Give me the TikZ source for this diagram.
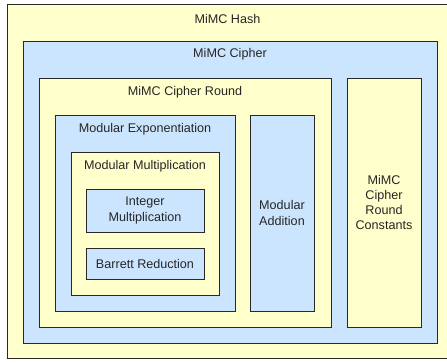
\documentclass[tikz,border=0pt]{standalone}
\usepackage{fontspec}
\setmainfont{Liberation Sans}
\definecolor{HashCream}{RGB}{255,255,204}
\definecolor{HashBlue}{RGB}{204,229,255}
\definecolor{EdgeGray}{RGB}{40,40,40}
\usepackage{tikz}
\usetikzlibrary{positioning}

\begin{document}
\begin{tikzpicture}[x=1pt, y=-1pt]
		\tikzstyle{every node}=[font=\fontsize{12.6}{15.2}\selectfont, text=black!85, align=center, inner sep=0pt];
		\tikzstyle{cream}=[draw=EdgeGray, line width=1pt, fill=HashCream, rectangle];
		\tikzstyle{blue}=[draw=EdgeGray, line width=1pt, fill=HashBlue, rectangle];
		\useasboundingbox (0,0) rectangle (447,362);
		\node [cream, minimum width=441pt, minimum height=354pt] (hash) at (227.5,181) {};
		\node [blue, minimum width=414pt, minimum height=302pt] (cipher) at (230,192) {};
		\node [cream, minimum width=292pt, minimum height=249pt] (round) at (185,202.5) {};
		\node [cream, minimum width=74pt, minimum height=249pt] (consts) at (384,202.5) {MiMC\\Cipher\\Round\\Constants};
		\node [blue, minimum width=180pt, minimum height=196pt] (modexp) at (145,213) {};
		\node [blue, minimum width=64pt, minimum height=196pt] (modadd) at (282,213) {Modular\\Addition};
		\node [cream, minimum width=148pt, minimum height=143pt] (modmul) at (145,223.5) {};
		\node [blue, minimum width=118pt, minimum height=43pt] (intmul) at (145,210.5) {Integer\\Multiplication};
		\node [blue, minimum width=118pt, minimum height=31pt] (barrett) at (145,263.5) {Barrett Reduction};
		\node [below=15.5pt of hash.north, anchor=center] (hashtxt) {MiMC Hash};
		\node [below=14pt of cipher.north, anchor=center] (ciphertxt) {MiMC Cipher};
		\node [below=15pt of round.north, anchor=center] (roundtxt) {MiMC Cipher Round};
		\node [below=15pt of modexp.north, anchor=center] (modexptxt) {Modular Exponentiation};
		\node [below=15pt of modmul.north, anchor=center] (modmultxt) {Modular Multiplication};
	\end{tikzpicture}
\end{document}
